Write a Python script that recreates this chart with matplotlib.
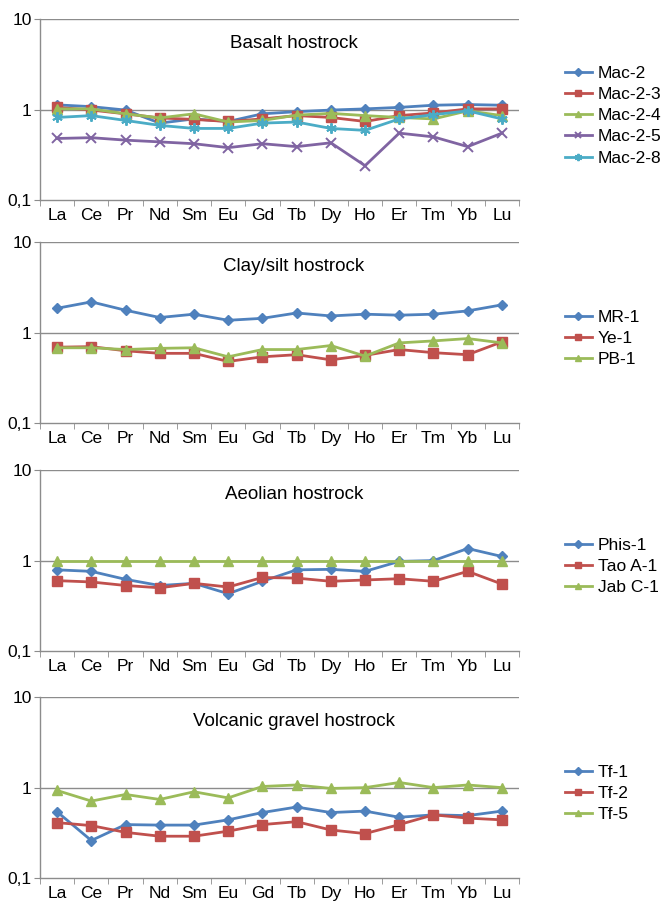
import numpy as np
import matplotlib
matplotlib.use("Agg")
from matplotlib import pyplot as plt
from matplotlib.ticker import FixedLocator, FuncFormatter, NullLocator

plt.rcParams['font.family'] = ['Liberation Sans', 'DejaVu Sans']

elements = ['La', 'Ce', 'Pr', 'Nd', 'Sm', 'Eu', 'Gd', 'Tb', 'Dy', 'Ho', 'Er', 'Tm', 'Yb', 'Lu']

# basalt hostrock
mac_2   = [1.13, 1.08, 0.99, 0.71, 0.79, 0.74, 0.90, 0.95, 0.99, 1.02, 1.06, 1.12, 1.14, 1.12]
mac_2_3 = [1.06, 0.99, 0.90, 0.81, 0.78, 0.74, 0.79, 0.86, 0.82, 0.74, 0.86, 0.92, 1.02, 1.02]
mac_2_4 = [1.02, 1.02, 0.90, 0.81, 0.90, 0.73, 0.76, 0.87, 0.91, 0.86, 0.82, 0.79, 0.97, 0.86]
mac_2_5 = [0.48, 0.49, 0.46, 0.44, 0.42, 0.38, 0.42, 0.39, 0.43, 0.24, 0.55, 0.50, 0.39, 0.55]
mac_2_8 = [0.82, 0.86, 0.76, 0.67, 0.62, 0.62, 0.71, 0.73, 0.62, 0.59, 0.79, 0.88, 0.97, 0.79]

# clay/silt hostrock
mr_1 = [1.86, 2.19, 1.77, 1.47, 1.60, 1.37, 1.44, 1.65, 1.53, 1.60, 1.56, 1.60, 1.74, 2.03]
ye_1 = [0.69, 0.70, 0.63, 0.59, 0.59, 0.48, 0.54, 0.57, 0.50, 0.56, 0.65, 0.60, 0.57, 0.79]
pb_1 = [0.68, 0.68, 0.65, 0.67, 0.68, 0.54, 0.65, 0.65, 0.72, 0.55, 0.77, 0.81, 0.86, 0.77]

# aeolian hostrock
phis_1  = [0.79, 0.76, 0.62, 0.53, 0.56, 0.43, 0.59, 0.79, 0.80, 0.76, 0.98, 1.00, 1.36, 1.11]
tao_a_1 = [0.60, 0.58, 0.53, 0.50, 0.56, 0.51, 0.65, 0.64, 0.59, 0.61, 0.63, 0.59, 0.76, 0.55]
jab_c_1 = [1.00, 1.00, 1.00, 1.00, 1.00, 1.00, 1.00, 1.00, 1.00, 1.00, 1.00, 1.00, 1.00, 1.00]

# volcanic gravel hostrock
tf_1 = [0.54, 0.26, 0.39, 0.385, 0.385, 0.44, 0.53, 0.61, 0.53, 0.55, 0.47, 0.50, 0.49, 0.55]
tf_2 = [0.41, 0.38, 0.32, 0.29, 0.29, 0.33, 0.39, 0.42, 0.34, 0.31, 0.39, 0.50, 0.46, 0.44]
tf_5 = [0.93, 0.71, 0.84, 0.74, 0.90, 0.77, 1.03, 1.07, 0.98, 1.00, 1.14, 1.00, 1.07, 1.00]

blue, red, green, purple, aqua = '#4F81BD', '#C0504D', '#9BBB59', '#8064A2', '#4BACC6'
styles = [(blue, 'D', 5.5), (red, 's', 6.5), (green, '^', 7), (purple, 'x', 6.5), (aqua, (6, 2, 0), 7.5)]

panels = [
    ('Basalt hostrock', [mac_2, mac_2_3, mac_2_4, mac_2_5, mac_2_8],
     ['Mac-2', 'Mac-2-3', 'Mac-2-4', 'Mac-2-5', 'Mac-2-8']),
    ('Clay/silt hostrock', [mr_1, ye_1, pb_1], ['MR-1', 'Ye-1', 'PB-1']),
    ('Aeolian hostrock', [phis_1, tao_a_1, jab_c_1], ['Phis-1', 'Tao A-1', 'Jab C-1']),
    ('Volcanic gravel hostrock', [tf_1, tf_2, tf_5], ['Tf-1', 'Tf-2', 'Tf-5']),
]

fig = plt.figure(figsize=(6.61, 9.06), dpi=100)
bottoms = [0.7792, 0.5331, 0.2815, 0.0309]
grey = '#8C8C8C'
x = np.arange(len(elements))

for (title, series, names), b in zip(panels, bottoms):
    ax = fig.add_axes([0.0605, b, 0.7247, 0.1995])
    ax.set_yscale('log')
    ax.set_ylim(0.1, 10)
    ax.set_xlim(-0.5, len(elements) - 0.5)
    for yv in [1, 10]:
        ax.axhline(yv, color=grey, lw=1, zorder=1)
    for vals, name, (c, m, ms) in zip(series, names, styles):
        mew = 1.4 if m in ('x', (6, 2, 0)) else 1.0
        ax.plot(x, vals, color=c, marker=m, ms=ms, lw=2.0, mew=mew,
                mec=c, mfc=c, label=name, zorder=3, clip_on=False)
    ax.text(0.53, 0.865, title, transform=ax.transAxes, ha='center', va='center',
            fontsize=13.5)
    for s in ['top', 'right']:
        ax.spines[s].set_visible(False)
    for s in ['left', 'bottom']:
        ax.spines[s].set_color(grey)
        ax.spines[s].set_linewidth(1)
    ax.yaxis.set_major_locator(FixedLocator([0.1, 1, 10]))
    ax.yaxis.set_minor_locator(NullLocator())
    ax.yaxis.set_major_formatter(FuncFormatter(lambda v, p: ('%g' % v).replace('.', ',')))
    ax.xaxis.set_major_locator(FixedLocator(x))
    ax.set_xticklabels(elements)
    ax.xaxis.set_minor_locator(FixedLocator(np.arange(-0.5, len(elements), 1.0)))
    ax.tick_params(axis='x', which='major', length=0, pad=6, labelsize=12.5)
    ax.tick_params(axis='x', which='minor', length=4, color=grey, direction='out')
    ax.tick_params(axis='y', length=4, color=grey, direction='out', pad=2, labelsize=12.5)
    ax.legend(loc='center left', bbox_to_anchor=(1.095, 0.467), frameon=False,
              borderpad=0, borderaxespad=0, handlelength=1.6, handletextpad=0.3,
              labelspacing=0.35, fontsize=12.5, markerscale=0.7)

fig.savefig('out.png', dpi=100)
